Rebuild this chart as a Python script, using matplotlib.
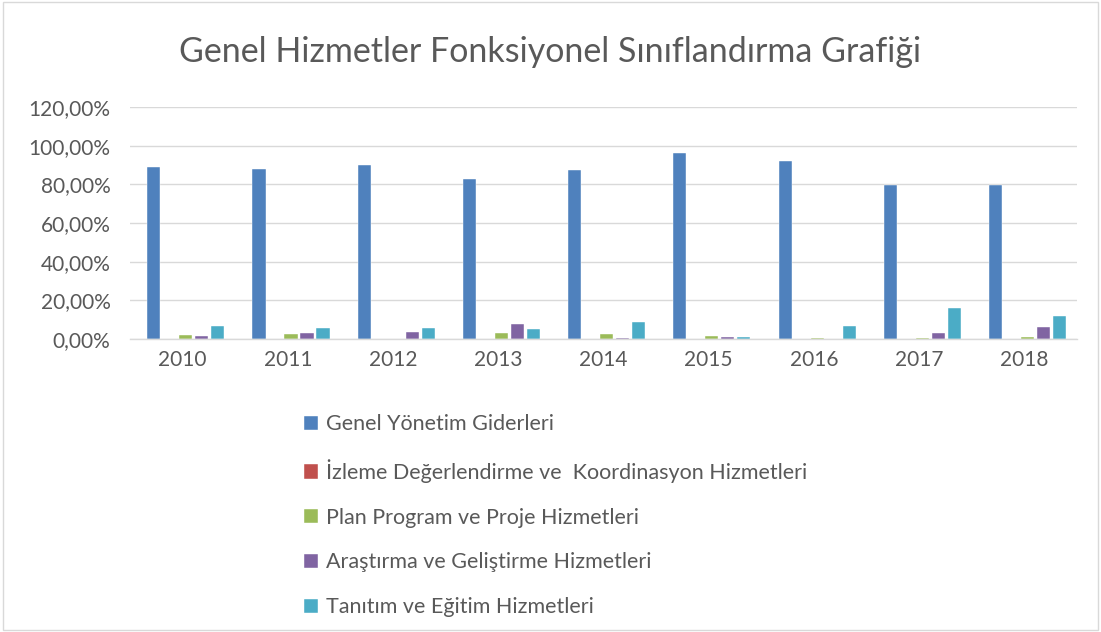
import numpy as np
import matplotlib.pyplot as plt
from matplotlib.ticker import FuncFormatter

plt.rcParams['font.family'] = ['Lato', 'DejaVu Sans']

years = ['2010', '2011', '2012', '2013', '2014', '2015', '2016', '2017', '2018']
series = ['Genel Yönetim Giderleri',
          'İzleme Değerlendirme ve  Koordinasyon Hizmetleri',
          'Plan Program ve Proje Hizmetleri',
          'Araştırma ve Geliştirme Hizmetleri',
          'Tanıtım ve Eğitim Hizmetleri']
genel = [89.0, 88.0, 90.0, 83.0, 87.5, 96.0, 92.0, 79.7, 79.7]
izleme = [0, 0, 0, 0, 0, 0, 0, 0, 0]
plan = [2.2, 2.8, 0.0, 3.0, 2.4, 1.7, 0.4, 0.6, 1.1]
arastirma = [1.8, 3.3, 3.8, 7.9, 0.5, 0.9, 0.2, 3.3, 6.4]
tanitim = [6.6, 5.5, 5.9, 5.3, 8.9, 0.9, 6.7, 15.8, 12.1]
colors = ['#4f81bd', '#c0504d', '#9bbb59', '#8064a2', '#4bacc6']

fig = plt.figure(figsize=(11.01, 6.32), dpi=100)
ax = fig.add_axes([130 / 1101, 1 - 339 / 632, (1077 - 130) / 1101, (339 - 107) / 632])

x = np.arange(len(years))
step = 0.152
width = 0.125
for i, (vals, c) in enumerate(zip([genel, izleme, plan, arastirma, tanitim], colors)):
    ax.bar(x + (i - 2) * step + 0.03, vals, width, color=c, label=series[i],
           edgecolor='white', linewidth=0.3)

ax.set_xlim(-0.5, len(years) - 0.5)
ax.set_ylim(0, 120)
ax.set_yticks(np.arange(0, 121, 20))
ax.yaxis.set_major_formatter(FuncFormatter(lambda v, p: f'{v:.2f}'.replace('.', ',') + '%'))
ax.set_xticks(x)
ax.set_xticklabels(years)
ax.grid(axis='y', color='#d9d9d9', linewidth=1)
ax.set_axisbelow(True)
for s in ['top', 'right', 'left']:
    ax.spines[s].set_visible(False)
ax.spines['bottom'].set_color('#d9d9d9')
ax.spines['bottom'].set_linewidth(1)
ax.tick_params(axis='both', length=0, labelsize=15, colors='#595959', pad=8)
ax.tick_params(axis='y', pad=14)

fig.text(0.5, 1 - 52 / 632, 'Genel Hizmetler Fonksiyonel Sınıflandırma Grafiği',
         ha='center', va='center', fontsize=24.5, color='#595959')

leg = fig.legend(loc='upper left', bbox_to_anchor=(285 / 1101, 1 - 395 / 632),
                 frameon=False, fontsize=15.5, labelspacing=1.15,
                 handlelength=0.65, handleheight=0.65, handletextpad=0.35)
for t in leg.get_texts():
    t.set_color('#595959')

fig.patches.append(plt.Rectangle((0.003, 0.003), 0.994, 0.994, transform=fig.transFigure,
                                 fill=False, edgecolor='#d9d9d9', linewidth=1))

fig.savefig('out.png', dpi=100)
